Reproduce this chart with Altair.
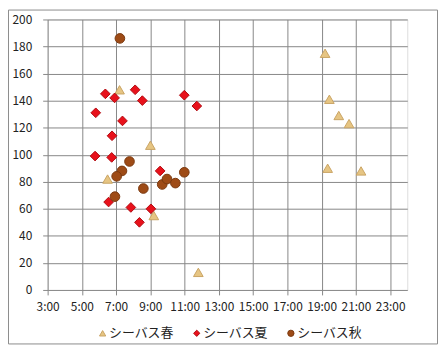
import altair as alt
import pandas as pd

series_names = ["シーバス春", "シーバス夏", "シーバス秋"]

# time of day in hours, value
spring_hours = [7.2, 9.0, 6.5, 9.2, 11.8, 19.2, 19.45, 20.0, 20.6, 19.35, 21.3]
spring_vals = [148, 107, 82, 55, 13, 175, 141, 129, 123, 90, 88]

summer_hours = [6.37, 6.91, 8.11, 8.53, 10.98, 11.71, 5.81, 7.37, 6.76, 5.77, 6.74,
                9.57, 6.56, 7.86, 8.36, 9.03]
summer_vals = [145, 142, 148, 140, 144, 136, 131, 125, 114, 99, 98, 88, 65, 61, 50, 60]

autumn_hours = [7.22, 7.78, 7.34, 7.03, 6.93, 8.59, 9.69, 9.97, 10.46, 10.98]
autumn_vals = [186, 95, 88, 84, 69, 75, 78, 82, 79, 87]

x_ticks = [3, 5, 7, 9, 11, 13, 15, 17, 19, 21, 23]
y_ticks = [0, 20, 40, 60, 80, 100, 120, 140, 160, 180, 200]

fill_colors = ["#E6C583", "#E8111B", "#9E4B16"]
stroke_colors = ["#C9A464", "#B00A10", "#7A3A10"]
shapes = ["triangle-up", "diamond", "circle"]

rows = []
for name, hs, vs in zip(series_names,
                        [spring_hours, summer_hours, autumn_hours],
                        [spring_vals, summer_vals, autumn_vals]):
    for h, v in zip(hs, vs):
        rows.append({"series": name, "hour": h, "value": v})
df = pd.DataFrame(rows)

FONT = "Noto Sans CJK JP"
GRID = "#878787"

legend = alt.Legend(
    title=None, orient="none", direction="horizontal",
    legendX=49, legendY=310, padding=0,
    symbolSize=40, symbolStrokeWidth=1, labelOffset=0, columnPadding=16,
    labelFont=FONT, labelFontSize=13, labelColor="#222222",
)

points = alt.Chart(df).mark_point(filled=True, size=95, opacity=1, strokeWidth=1).encode(
    x=alt.X("hour:Q",
            scale=alt.Scale(domain=[3, 24], nice=False, zero=False),
            axis=alt.Axis(values=x_ticks, labelExpr="datum.value + ':00'", title=None,
                          grid=True, gridColor=GRID, tickColor=GRID, tickSize=5,
                          labelPadding=7, labelFont=FONT, labelFontSize=12,
                          labelColor="#222222", domain=False, labelFlush=False)),
    y=alt.Y("value:Q",
            scale=alt.Scale(domain=[0, 200], nice=False),
            axis=alt.Axis(values=y_ticks, title=None, grid=True, gridColor=GRID,
                          tickColor=GRID, tickSize=5, labelPadding=11, labelFont=FONT,
                          labelFontSize=12, labelColor="#222222", domain=False,
                          labelFlush=False)),
    fill=alt.Fill("series:N", scale=alt.Scale(domain=series_names, range=fill_colors),
                  legend=legend),
    stroke=alt.Stroke("series:N", scale=alt.Scale(domain=series_names, range=stroke_colors),
                      legend=legend),
    shape=alt.Shape("series:N", scale=alt.Scale(domain=series_names, range=shapes),
                    legend=legend),
    order=alt.Order("order:Q"),
).transform_calculate(
    order="indexof(['シーバス春','シーバス夏','シーバス秋'], datum.series)"
)

frame = alt.Chart(pd.DataFrame({"a": [0]})).mark_rect(
    fill="transparent", stroke="#8C8C8C", strokeWidth=1
).encode(
    x=alt.value(-39.5), x2=alt.value(393.5), y=alt.value(-9.5), y2=alt.value(327.5)
)

chart = alt.layer(frame, points).properties(
    width=363, height=273,
    autosize=alt.AutoSizeParams(type="none"),
    padding={"left": 40, "top": 10, "right": 31, "bottom": 55},
).configure_view(stroke=None).configure(background="white")

chart.save("out.html", embed_options={"renderer": "svg", "actions": False})
